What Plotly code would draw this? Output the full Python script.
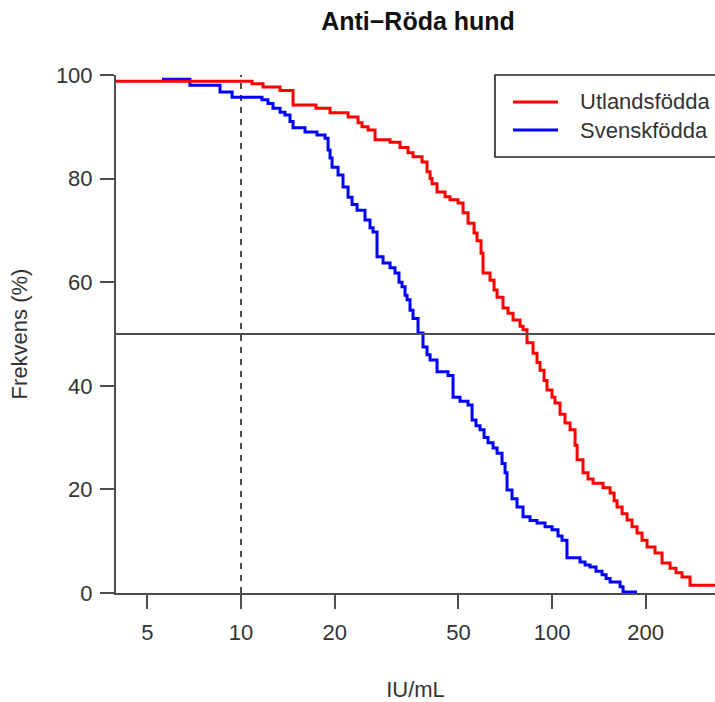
import plotly.graph_objects as go

# Utlandsfödda (red) step curve: IU/mL at which the step happens, new % level
utl_x = [3.8, 10.85, 11.77, 13.35, 14.70, 17.42, 19.33, 22.09, 23.78, 24.49, 25.61,
         26.97, 30.14, 32.45, 34.43, 35.73, 38.19, 39.64, 40.53, 41.13, 42.68, 45.29,
         46.99, 49.86, 51.75, 53.70, 56.14, 57.39, 59.12, 60.00, 63.19, 65.10, 66.57,
         69.57, 72.19, 74.92, 78.90, 80.68, 83.10, 86.87, 89.48, 91.49, 94.26, 96.36,
         100.0, 102.2, 106.1, 110.1, 114.3, 118.6, 120.4, 125.8, 130.5, 135.5, 145.9,
         153.7, 158.3, 161.8, 168.0, 174.3, 180.8, 187.6, 194.7, 202.1, 214.4, 225.8,
         239.6, 250.5, 261.8, 277.8, 380.0]
utl_y = [98.8, 98.3, 97.7, 97.0, 94.2, 93.6, 92.7, 91.9, 90.8, 90.0, 89.4,
         87.5, 87.0, 86.0, 85.0, 84.2, 83.2, 81.3, 80.0, 79.0, 77.4, 76.5,
         75.9, 75.3, 73.4, 71.4, 69.5, 68.0, 65.6, 61.8, 60.4, 58.5, 57.1,
         55.0, 54.0, 52.7, 51.5, 50.8, 48.3, 46.3, 44.5, 43.0, 41.0, 39.2,
         37.8, 36.7, 34.5, 32.8, 31.5, 28.5, 25.7, 23.2, 22.0, 21.2, 20.3,
         19.3, 17.8, 16.6, 15.3, 14.1, 12.8, 11.6, 10.2, 8.9, 7.7, 5.8,
         4.8, 3.9, 3.1, 1.5, 1.5]

# Svenskfödda (blue) step curve
sve_x = [5.57, 6.85, 8.56, 9.36, 11.68, 12.21, 12.67, 13.35, 13.85, 14.37, 14.70,
         16.06, 17.55, 18.63, 19.05, 19.33, 19.62, 20.51, 21.28, 22.09, 22.75, 23.61,
         25.04, 25.99, 26.57, 27.37, 28.62, 30.14, 31.27, 32.21, 32.94, 33.68, 34.19,
         34.95, 35.73, 37.08, 38.47, 39.64, 40.53, 42.68, 46.31, 48.05, 50.60, 53.70,
         55.32, 56.96, 58.69, 60.46, 62.28, 64.63, 66.57, 69.06, 70.62, 71.67, 74.36,
         77.16, 80.68, 84.96, 89.48, 94.95, 100.0, 104.5, 107.7, 111.7, 123.0, 127.7,
         132.5, 138.5, 144.8, 149.2, 153.7, 165.5, 169.2, 187.6]
sve_y = [99.2, 98.0, 96.7, 95.7, 95.2, 94.5, 93.6, 92.8, 92.3, 91.0, 89.8,
         89.0, 88.4, 87.8, 85.5, 84.0, 82.2, 80.7, 78.4, 76.4, 75.0, 73.9,
         72.0, 70.5, 69.7, 64.9, 63.7, 62.8, 61.8, 60.0, 59.1, 57.5, 56.6,
         54.6, 53.0, 50.2, 47.5, 46.0, 45.0, 42.7, 42.0, 37.8, 37.0, 36.3,
         33.4, 32.3, 31.5, 30.0, 29.0, 28.0, 27.0, 25.0, 23.2, 19.9, 18.2,
         16.6, 14.7, 14.0, 13.5, 12.8, 12.2, 11.0, 10.2, 6.8, 6.0, 5.4,
         5.0, 4.2, 3.5, 2.8, 2.1, 1.2, 0.2, 0.2]

x_tickvals = [5, 10, 20, 50, 100, 200]
y_tickvals = [0, 20, 40, 60, 80, 100]
legend_names = ["Utlandsfödda", "Svenskfödda"]
ref_x = 10
ref_y = 50

FONT = "Liberation Sans, Arial, Helvetica, sans-serif"
TXT = "#333333"
AX = "#4d4d4d"

fig = go.Figure()
fig.add_trace(go.Scatter(x=sve_x, y=sve_y, mode="lines", line=dict(color="#0000FF", width=3, shape="hv"),
                         name=legend_names[1], showlegend=False, cliponaxis=True))
fig.add_trace(go.Scatter(x=utl_x, y=utl_y, mode="lines", line=dict(color="#FF0000", width=3, shape="hv"),
                         name=legend_names[0], showlegend=False, cliponaxis=True))

# reference lines
fig.add_shape(type="line", xref="x", yref="paper", x0=ref_x, x1=ref_x, y0=0, y1=1,
              line=dict(color=AX, width=2, dash="6px,6px"), layer="below")
fig.add_shape(type="line", xref="paper", yref="y", x0=0, x1=1, y0=ref_y, y1=ref_y,
              line=dict(color=AX, width=1.8))

# legend box (extends beyond the right edge)
fig.add_shape(type="rect", xref="paper", yref="paper", x0=0.6327, x1=1.1, y0=0.8417, y1=1.0,
              line=dict(color="#222222", width=1.6), fillcolor="white")
for i, (name, col, yp) in enumerate([(legend_names[0], "#FF0000", 0.9479), (legend_names[1], "#0000FF", 0.8938)]):
    fig.add_shape(type="line", xref="paper", yref="paper", x0=0.6628, x1=0.7379, y0=yp, y1=yp,
                  line=dict(color=col, width=3))
    fig.add_annotation(xref="paper", yref="paper", x=0.7713, y=yp, text=name, showarrow=False,
                       xanchor="left", yanchor="middle", font=dict(family=FONT, size=22, color=TXT))

fig.update_layout(
    width=715, height=702,
    margin=dict(l=116, r=0, t=75, b=109),
    paper_bgcolor="white", plot_bgcolor="white",
    font=dict(family=FONT, size=22, color=TXT),
    title=dict(text="<b>Anti−Röda hund</b>", x=418/715, xanchor="center", xref="container",
               y=1 - 21/702, yanchor="middle", yref="container",
               font=dict(family=FONT, size=25, color="#111111")),
    xaxis=dict(type="log", range=[0.598, 2.524], tickvals=x_tickvals, ticktext=[str(v) for v in x_tickvals],
               showgrid=False, zeroline=False, showline=True, linecolor=AX, linewidth=2,
               ticks="outside", ticklen=14, tickwidth=2, tickcolor=AX, ticklabelstandoff=5,
               title=dict(text="IU/mL", standoff=38, font=dict(size=22, color=TXT)),
               tickfont=dict(size=22, color=TXT)),
    yaxis=dict(range=[0, 100], tickvals=y_tickvals, showgrid=False, zeroline=False,
               showline=True, linecolor=AX, linewidth=2,
               ticks="outside", ticklen=14, tickwidth=2, tickcolor=AX, ticklabelstandoff=3,
               title=dict(text="Frekvens (%)", standoff=22, font=dict(size=22, color=TXT)),
               tickfont=dict(size=22, color=TXT)),
)

fig.write_html("out.html")
